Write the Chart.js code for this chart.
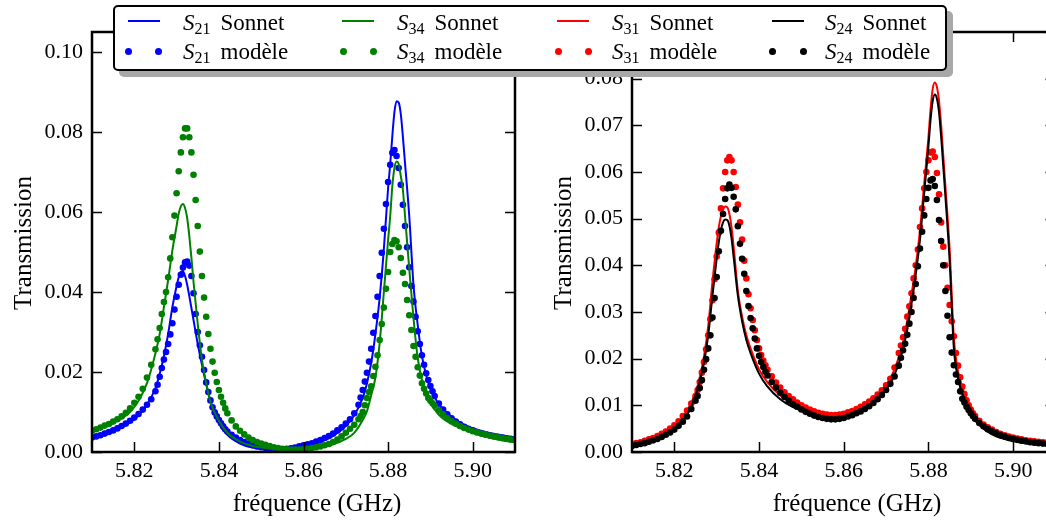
<!DOCTYPE html>
<html>
<head>
<meta charset="utf-8">
<script src="https://cdn.jsdelivr.net/npm/chart.js@4.4.1/dist/chart.umd.min.js"></script>
<style>
  html, body { margin: 0; padding: 0; background: #fff; overflow: hidden; }
  #page { position: relative; width: 1046px; height: 522px; overflow: hidden; font-family: 'Liberation Serif', serif; }
  canvas { position: absolute; top: 0; }
  #leftChart { left: 0; }
  #rightChart { left: 530px; }
  #legend { position: absolute; left: 113px; top: 5px; width: 834px; height: 66px; box-sizing: border-box;
            border: 2px solid #000; border-radius: 5px; background: #fff; box-shadow: 6px 6px 0 #a8a8a8; z-index: 5; }
  .hl { position: absolute; width: 32px; height: 2px; z-index: 6; }
  .hd { position: absolute; width: 7px; height: 7px; border-radius: 50%; z-index: 6; }
  .t { position: absolute; font: 23px/23px 'Liberation Serif', serif; white-space: nowrap; z-index: 6; color: #000; }
  .t sub { font-size: 16px; line-height: 0; vertical-align: -4px; font-style: normal; margin-right: 10px; }
</style>
</head>
<body>
<div id="page">
  <canvas id="leftChart" width="530" height="522"></canvas>
  <canvas id="rightChart" width="540" height="522"></canvas>

  <div id="legend"></div>
  <div class="hl" style="left:128px;top:20px;background:#0000ff"></div>
  <div class="hd" style="left:125px;top:48px;background:#0000ff"></div>
  <div class="hd" style="left:155px;top:48px;background:#0000ff"></div>
  <span class="t" style="left:183px;top:11px"><i>S</i><sub>21</sub>Sonnet</span>
  <span class="t" style="left:183px;top:40px"><i>S</i><sub>21</sub>modèle</span>

  <div class="hl" style="left:342px;top:20px;background:#008000"></div>
  <div class="hd" style="left:340px;top:48px;background:#008000"></div>
  <div class="hd" style="left:370px;top:48px;background:#008000"></div>
  <span class="t" style="left:397px;top:11px"><i>S</i><sub>34</sub>Sonnet</span>
  <span class="t" style="left:397px;top:40px"><i>S</i><sub>34</sub>modèle</span>

  <div class="hl" style="left:557px;top:20px;background:#ff0000"></div>
  <div class="hd" style="left:555px;top:48px;background:#ff0000"></div>
  <div class="hd" style="left:585px;top:48px;background:#ff0000"></div>
  <span class="t" style="left:612px;top:11px"><i>S</i><sub>31</sub>Sonnet</span>
  <span class="t" style="left:612px;top:40px"><i>S</i><sub>31</sub>modèle</span>

  <div class="hl" style="left:772px;top:20px;background:#000000"></div>
  <div class="hd" style="left:769px;top:48px;background:#000000"></div>
  <div class="hd" style="left:800px;top:48px;background:#000000"></div>
  <span class="t" style="left:825px;top:11px"><i>S</i><sub>24</sub>Sonnet</span>
  <span class="t" style="left:825px;top:40px"><i>S</i><sub>24</sub>modèle</span>
</div>

<script>
// frequencies (GHz) of the model points
const modelFreq = [
  5.810, 5.811, 5.812, 5.813, 5.814, 5.815, 5.816, 5.817, 5.818, 5.819, 5.820, 5.821, 5.822, 5.823, 5.824, 5.825,
  5.8255, 5.826, 5.8265, 5.827, 5.8275, 5.828, 5.8285, 5.829, 5.8295, 5.830, 5.8305, 5.831, 5.8315, 5.832, 5.8325, 5.833, 5.8335, 5.834,
  5.8345, 5.835, 5.8355, 5.836, 5.8365, 5.837, 5.8375, 5.838, 5.8385, 5.839, 5.8395, 5.840, 5.8405, 5.841, 5.8415, 5.842,
  5.843, 5.844, 5.845, 5.846, 5.847, 5.848, 5.849, 5.850, 5.851, 5.852, 5.853, 5.854, 5.855, 5.856, 5.857, 5.858,
  5.859, 5.860, 5.861, 5.862, 5.863, 5.864, 5.865, 5.866, 5.867, 5.868, 5.869, 5.870, 5.871, 5.872, 5.873,
  5.8735, 5.874, 5.8745, 5.875, 5.8755, 5.876, 5.8765, 5.877, 5.8775, 5.878, 5.8785, 5.879, 5.8795, 5.880, 5.8805, 5.881, 5.8815, 5.882,
  5.8825, 5.883, 5.8835, 5.884, 5.8845, 5.885, 5.8855, 5.886, 5.8865, 5.887, 5.8875, 5.888, 5.8885, 5.889, 5.8895, 5.890, 5.8905,
  5.891, 5.892, 5.893, 5.894, 5.895, 5.896, 5.897, 5.898, 5.899, 5.900, 5.901, 5.902, 5.903, 5.904, 5.905, 5.906, 5.907, 5.908, 5.909, 5.910
];

// frequencies (GHz) of the Sonnet curves
const sonnetFreq = [
  5.810, 5.813, 5.816, 5.819, 5.821, 5.823, 5.825, 5.826, 5.827, 5.828, 5.829, 5.830,
  5.8305, 5.831, 5.8315, 5.832, 5.8325, 5.833, 5.8335, 5.834,
  5.835, 5.836, 5.837, 5.838, 5.840, 5.842, 5.845, 5.848, 5.852, 5.856,
  5.860, 5.864, 5.867, 5.870, 5.872, 5.874, 5.875, 5.876, 5.877, 5.878,
  5.879, 5.880, 5.8805, 5.881, 5.8815, 5.882, 5.8825, 5.883, 5.8835, 5.884,
  5.885, 5.886, 5.887, 5.888, 5.890, 5.892, 5.895, 5.898, 5.902, 5.906, 5.910
];

// left panel
const s21Sonnet = [
  0.0035, 0.0044, 0.0056, 0.0074, 0.0092, 0.0118, 0.0160, 0.0195, 0.0240, 0.0295, 0.0362, 0.0415,
  0.0437, 0.0450, 0.0452, 0.0440, 0.0418, 0.0390, 0.0360, 0.0330,
  0.0270, 0.0218, 0.0170, 0.0128, 0.0072, 0.0043, 0.0021, 0.0011, 0.0006, 0.0006,
  0.0012, 0.0025, 0.0040, 0.0065, 0.0092, 0.0135, 0.0172, 0.0222, 0.0295, 0.0385,
  0.0508, 0.0660, 0.0720, 0.0790, 0.0850, 0.0877, 0.0874, 0.0845, 0.0788, 0.0722,
  0.0590, 0.0418, 0.0318, 0.0240, 0.0158, 0.0120, 0.0088, 0.0068, 0.0053, 0.0043, 0.0036
];
const s21Model = [
  0.0036, 0.0039, 0.0042, 0.0046, 0.0050, 0.0054, 0.0059, 0.0065, 0.0071, 0.0078, 0.0086, 0.0095, 0.0106, 0.0118, 0.0132, 0.0152,
  0.0168, 0.0188, 0.0210, 0.0231, 0.0250, 0.0270, 0.0294, 0.0322, 0.0356, 0.0388, 0.0418, 0.0443, 0.0461, 0.0474, 0.0476, 0.0466, 0.0440, 0.0397,
  0.0345, 0.0300, 0.0267, 0.0238, 0.0205, 0.0174, 0.0150, 0.0129, 0.0112, 0.0099, 0.0089, 0.0080, 0.0072, 0.0064, 0.0057, 0.0051,
  0.0043, 0.0036, 0.0030, 0.0025, 0.0021, 0.0017, 0.0014, 0.0012, 0.0010, 0.0009, 0.0008, 0.0007, 0.0007, 0.0008, 0.0009, 0.0011,
  0.0014, 0.0017, 0.0019, 0.0022, 0.0026, 0.0030, 0.0035, 0.0040, 0.0046, 0.0054, 0.0062, 0.0071, 0.0082, 0.0097, 0.0118,
  0.0136, 0.0155, 0.0176, 0.0198, 0.0226, 0.0258, 0.0298, 0.0340, 0.0388, 0.0440, 0.0498, 0.0558, 0.0620, 0.0675, 0.0718, 0.0748, 0.0755, 0.0740,
  0.0710, 0.0668, 0.0618, 0.0565, 0.0512, 0.0462, 0.0415, 0.0376, 0.0338, 0.0302, 0.0270, 0.0242, 0.0218, 0.0197, 0.0180, 0.0165, 0.0152,
  0.0140, 0.0121, 0.0106, 0.0094, 0.0084, 0.0076, 0.0069, 0.0063, 0.0058, 0.0054, 0.0050, 0.0047, 0.0044, 0.0042, 0.0040, 0.0038, 0.0036, 0.0034, 0.0033, 0.0032
];
const s34Sonnet = [
  0.0055, 0.0064, 0.0078, 0.0100, 0.0128, 0.0172, 0.0247, 0.0295, 0.0362, 0.0430, 0.0504, 0.0565,
  0.0596, 0.0614, 0.0620, 0.0610, 0.0585, 0.0540, 0.0486, 0.0425,
  0.0320, 0.0230, 0.0172, 0.0125, 0.0078, 0.0048, 0.0026, 0.0015, 0.0009, 0.0007,
  0.0008, 0.0011, 0.0019, 0.0033, 0.0048, 0.0080, 0.0102, 0.0142, 0.0186, 0.0272,
  0.0400, 0.0530, 0.0590, 0.0665, 0.0710, 0.0726, 0.0720, 0.0690, 0.0655, 0.0590,
  0.0458, 0.0335, 0.0235, 0.0180, 0.0123, 0.0093, 0.0070, 0.0056, 0.0042, 0.0031, 0.0024
];
const s34Model = [
  0.0053, 0.0057, 0.0061, 0.0066, 0.0070, 0.0076, 0.0082, 0.0089, 0.0098, 0.0109, 0.0123, 0.0138, 0.0158, 0.0186, 0.0218, 0.0257,
  0.0282, 0.0310, 0.0345, 0.0375, 0.0400, 0.0437, 0.0484, 0.0537, 0.0591, 0.0647, 0.0702, 0.0749, 0.0787, 0.0809, 0.0809, 0.0787, 0.0749, 0.0693,
  0.0630, 0.0565, 0.0501, 0.0440, 0.0386, 0.0338, 0.0295, 0.0258, 0.0226, 0.0198, 0.0175, 0.0155, 0.0138, 0.0123, 0.0109, 0.0097,
  0.0079, 0.0064, 0.0053, 0.0044, 0.0036, 0.0030, 0.0025, 0.0021, 0.0018, 0.0015, 0.0012, 0.0010, 0.0008, 0.0007, 0.0006, 0.0006,
  0.0006, 0.0007, 0.0008, 0.0010, 0.0012, 0.0014, 0.0017, 0.0020, 0.0025, 0.0031, 0.0039, 0.0048, 0.0058, 0.0068, 0.0082,
  0.0090, 0.0100, 0.0117, 0.0135, 0.0150, 0.0164, 0.0190, 0.0213, 0.0242, 0.0280, 0.0320, 0.0361, 0.0408, 0.0450, 0.0500, 0.0520, 0.0530, 0.0527,
  0.0512, 0.0485, 0.0448, 0.0420, 0.0380, 0.0342, 0.0305, 0.0265, 0.0238, 0.0212, 0.0191, 0.0172, 0.0158, 0.0146, 0.0135, 0.0128, 0.0122,
  0.0116, 0.0104, 0.0094, 0.0085, 0.0077, 0.0071, 0.0065, 0.0060, 0.0056, 0.0052, 0.0049, 0.0046, 0.0044, 0.0041, 0.0039, 0.0037, 0.0035, 0.0033, 0.0031, 0.0030
];

// right panel
const s31Sonnet = [
  0.0019, 0.0025, 0.0034, 0.0049, 0.0063, 0.0088, 0.0128, 0.0160, 0.0205, 0.0270, 0.0365, 0.0448,
  0.0482, 0.0505, 0.0520, 0.0526, 0.0524, 0.0510, 0.0482, 0.0440,
  0.0345, 0.0290, 0.0250, 0.0222, 0.0177, 0.0149, 0.0121, 0.0104, 0.0090, 0.0081,
  0.0083, 0.0095, 0.0113, 0.0143, 0.0177, 0.0235, 0.0282, 0.0338, 0.0398, 0.0475,
  0.0575, 0.0675, 0.0735, 0.0778, 0.0792, 0.0782, 0.0752, 0.0700, 0.0635, 0.0570,
  0.0435, 0.0245, 0.0172, 0.0138, 0.0088, 0.0065, 0.0042, 0.0031, 0.0023, 0.0018, 0.0016
];
const s31Model = [
  0.0017, 0.0019, 0.0021, 0.0024, 0.0027, 0.0030, 0.0034, 0.0039, 0.0044, 0.0050, 0.0057, 0.0066, 0.0077, 0.0089, 0.0104, 0.0120,
  0.0133, 0.0150, 0.0170, 0.0193, 0.0220, 0.0250, 0.0285, 0.0325, 0.0370, 0.0419, 0.0470, 0.0522, 0.0565, 0.0600, 0.0625, 0.0632, 0.0625, 0.0600,
  0.0568, 0.0530, 0.0492, 0.0455, 0.0410, 0.0372, 0.0338, 0.0308, 0.0283, 0.0261, 0.0240, 0.0222, 0.0208, 0.0196, 0.0186, 0.0176,
  0.0162, 0.0149, 0.0138, 0.0128, 0.0120, 0.0113, 0.0106, 0.0100, 0.0095, 0.0091, 0.0087, 0.0084, 0.0082, 0.0080, 0.0079, 0.0079,
  0.0080, 0.0082, 0.0085, 0.0088, 0.0092, 0.0097, 0.0102, 0.0108, 0.0115, 0.0123, 0.0132, 0.0143, 0.0157, 0.0181, 0.0212,
  0.0228, 0.0246, 0.0264, 0.0290, 0.0312, 0.0340, 0.0372, 0.0400, 0.0434, 0.0482, 0.0522, 0.0565, 0.0600, 0.0625, 0.0642, 0.0644, 0.0632, 0.0598,
  0.0552, 0.0492, 0.0440, 0.0400, 0.0352, 0.0315, 0.0280, 0.0248, 0.0212, 0.0185, 0.0160, 0.0140, 0.0124, 0.0111, 0.0100, 0.0091, 0.0083,
  0.0077, 0.0067, 0.0059, 0.0053, 0.0048, 0.0043, 0.0039, 0.0036, 0.0033, 0.0031, 0.0029, 0.0027, 0.0025, 0.0024, 0.0023, 0.0022, 0.0021, 0.0020, 0.0019, 0.0018
];
const s24Sonnet = [
  0.0016, 0.0022, 0.0030, 0.0043, 0.0057, 0.0080, 0.0120, 0.0150, 0.0192, 0.0250, 0.0335, 0.0415,
  0.0450, 0.0476, 0.0492, 0.0498, 0.0497, 0.0485, 0.0458, 0.0418,
  0.0335, 0.0280, 0.0240, 0.0212, 0.0168, 0.0140, 0.0113, 0.0096, 0.0082, 0.0073,
  0.0075, 0.0087, 0.0104, 0.0133, 0.0166, 0.0220, 0.0264, 0.0318, 0.0380, 0.0455,
  0.0555, 0.0655, 0.0712, 0.0752, 0.0766, 0.0757, 0.0728, 0.0675, 0.0612, 0.0548,
  0.0410, 0.0222, 0.0158, 0.0125, 0.0080, 0.0058, 0.0038, 0.0028, 0.0020, 0.0016, 0.0014
];
const s24Model = [
  0.0013, 0.0015, 0.0017, 0.0019, 0.0022, 0.0025, 0.0028, 0.0032, 0.0037, 0.0042, 0.0048, 0.0056, 0.0065, 0.0076, 0.0092, 0.0110,
  0.0120, 0.0137, 0.0154, 0.0176, 0.0199, 0.0222, 0.0250, 0.0288, 0.0330, 0.0375, 0.0430, 0.0474, 0.0510, 0.0542, 0.0565, 0.0573, 0.0566, 0.0547,
  0.0520, 0.0484, 0.0446, 0.0414, 0.0382, 0.0345, 0.0313, 0.0287, 0.0265, 0.0243, 0.0222, 0.0206, 0.0193, 0.0182, 0.0172, 0.0164,
  0.0150, 0.0138, 0.0127, 0.0118, 0.0110, 0.0103, 0.0097, 0.0091, 0.0086, 0.0082, 0.0078, 0.0075, 0.0073, 0.0071, 0.0070, 0.0070,
  0.0071, 0.0073, 0.0076, 0.0079, 0.0083, 0.0087, 0.0092, 0.0098, 0.0105, 0.0113, 0.0122, 0.0133, 0.0146, 0.0162, 0.0185,
  0.0202, 0.0218, 0.0232, 0.0251, 0.0275, 0.0300, 0.0330, 0.0360, 0.0398, 0.0436, 0.0472, 0.0507, 0.0542, 0.0566, 0.0582, 0.0585, 0.0570, 0.0540,
  0.0497, 0.0452, 0.0400, 0.0345, 0.0292, 0.0246, 0.0213, 0.0186, 0.0166, 0.0150, 0.0130, 0.0114, 0.0106, 0.0097, 0.0090, 0.0083, 0.0077,
  0.0071, 0.0062, 0.0055, 0.0049, 0.0044, 0.0040, 0.0036, 0.0033, 0.0030, 0.0028, 0.0026, 0.0024, 0.0023, 0.0021, 0.0020, 0.0019, 0.0018, 0.0017, 0.0016, 0.0016
];

// ticks
const xTicks = [5.82, 5.84, 5.86, 5.88, 5.90];
const yTicksLeft = [0.00, 0.02, 0.04, 0.06, 0.08, 0.10];
const yTicksRight = [0.00, 0.01, 0.02, 0.03, 0.04, 0.05, 0.06, 0.07, 0.08, 0.09];

const FONT = "'Liberation Serif', serif";

function sonnetSet(label, ys, color) {
  return {
    label: label,
    data: sonnetFreq.map((f, i) => ({ x: f, y: ys[i] })),
    borderColor: color,
    borderWidth: 2,
    pointRadius: 0,
    fill: false,
    cubicInterpolationMode: 'monotone',
    clip: 0
  };
}

function modelSet(label, ys, color) {
  return {
    label: label,
    data: modelFreq.map((f, i) => ({ x: f, y: ys[i] })),
    showLine: false,
    borderColor: color,
    borderWidth: 0,
    pointRadius: 3.3,
    pointBorderWidth: 0,
    pointBackgroundColor: color,
    clip: 0
  };
}

// matplotlib like frame: spines, inward ticks on all sides, axis titles
const mplFrame = {
  id: 'mplFrame',
  afterDraw(chart, args, opts) {
    const ctx = chart.ctx;
    const a = chart.chartArea;
    const xs = chart.scales.x, ys = chart.scales.y;
    ctx.save();
    ctx.strokeStyle = '#000';
    ctx.lineWidth = 1.5;
    ctx.beginPath();
    xs.ticks.forEach(t => {
      const px = Math.round(xs.getPixelForValue(t.value)) + 0.5;
      ctx.moveTo(px, a.bottom); ctx.lineTo(px, a.bottom - 10);
      ctx.moveTo(px, a.top); ctx.lineTo(px, a.top + 10);
    });
    ys.ticks.forEach(t => {
      const py = Math.round(ys.getPixelForValue(t.value)) + 0.5;
      ctx.moveTo(a.left, py); ctx.lineTo(a.left + 10, py);
      ctx.moveTo(a.right, py); ctx.lineTo(a.right - 10, py);
    });
    ctx.stroke();
    ctx.lineWidth = 2.5;
    ctx.strokeRect(a.left, a.top, a.right - a.left, a.bottom - a.top);

    ctx.fillStyle = '#000';
    ctx.font = '25px ' + FONT;
    ctx.textAlign = 'center';
    ctx.textBaseline = 'alphabetic';
    ctx.fillText(opts.xTitle, opts.xTitleX, opts.xTitleY);
    ctx.translate(opts.yTitleX, opts.yTitleY);
    ctx.rotate(-Math.PI / 2);
    ctx.fillText(opts.yTitle, 0, 0);
    ctx.restore();
  }
};

function makeChart(id, datasets, yMax, yTicks, axisWidth, padRight, titles) {
  return new Chart(document.getElementById(id), {
    type: 'line',
    data: { datasets: datasets },
    plugins: [mplFrame],
    options: {
      responsive: false,
      devicePixelRatio: 1,
      animation: false,
      events: [],
      layout: { autoPadding: false, padding: { left: 0, top: 32, right: padRight, bottom: 0 } },
      plugins: {
        legend: { display: false },
        tooltip: { enabled: false },
        mplFrame: titles
      },
      scales: {
        x: {
          type: 'linear',
          min: 5.81,
          max: 5.91,
          afterBuildTicks: s => { s.ticks = xTicks.map(v => ({ value: v })); },
          afterFit: s => { s.height = 70; },
          grid: { display: false, drawTicks: false, tickLength: 0 },
          border: { display: false },
          ticks: {
            color: '#000',
            font: { family: FONT, size: 22 },
            padding: 6,
            maxRotation: 0,
            autoSkip: false,
            callback: v => v.toFixed(2)
          }
        },
        y: {
          type: 'linear',
          min: 0,
          max: yMax,
          afterBuildTicks: s => { s.ticks = yTicks.map(v => ({ value: v })); },
          afterFit: s => { s.width = axisWidth; },
          grid: { display: false, drawTicks: false, tickLength: 0 },
          border: { display: false },
          ticks: {
            color: '#000',
            font: { family: FONT, size: 22 },
            padding: 9,
            autoSkip: false,
            callback: v => v.toFixed(2)
          }
        }
      }
    }
  });
}

// later series are drawn first so that the plotting order matches the original
makeChart('leftChart', [
  modelSet('S34 modèle', s34Model, '#008000'),
  sonnetSet('S34 Sonnet', s34Sonnet, '#008000'),
  modelSet('S21 modèle', s21Model, '#0000ff'),
  sonnetSet('S21 Sonnet', s21Sonnet, '#0000ff')
], 0.105, yTicksLeft, 92, 15, {
  xTitle: 'fréquence (GHz)', xTitleX: 317, xTitleY: 511,
  yTitle: 'Transmission', yTitleX: 31, yTitleY: 243
});

makeChart('rightChart', [
  modelSet('S24 modèle', s24Model, '#000000'),
  sonnetSet('S24 Sonnet', s24Sonnet, '#000000'),
  modelSet('S31 modèle', s31Model, '#ff0000'),
  sonnetSet('S31 Sonnet', s31Sonnet, '#ff0000')
], 0.09, yTicksRight, 102, 14.5, {
  xTitle: 'fréquence (GHz)', xTitleX: 327, xTitleY: 511,
  yTitle: 'Transmission', yTitleX: 41, yTitleY: 243
});
</script>
</body>
</html>
